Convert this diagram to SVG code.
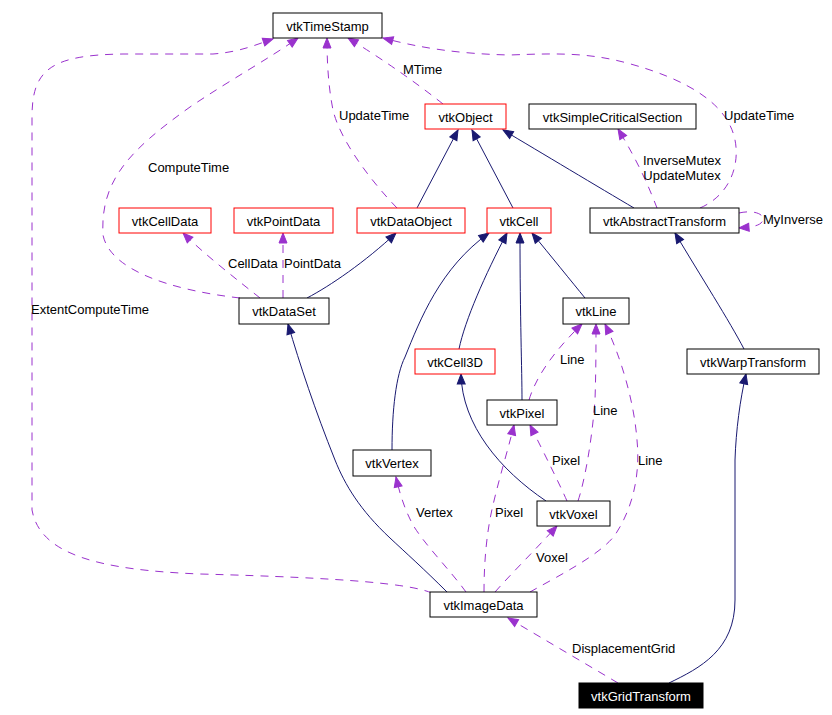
<svg xmlns="http://www.w3.org/2000/svg" width="832" height="715" viewBox="0 0 832 715">
<style>
  text { font-family: "Liberation Sans", Arial, sans-serif; font-size: 13px; fill: #000; }
  .n rect { fill: #fff; stroke: #000; stroke-width: 1; }
  .n.red rect { stroke: #ff0000; }
  .n.dark rect { fill: #000; stroke: #000; }
  .n.dark text { fill: #fff; }
  .n text { text-anchor: middle; }
  .inh { fill: none; stroke: #191970; stroke-width: 1; marker-end: url(#an); }
  .use { fill: none; stroke: #9a32cd; stroke-width: 1; stroke-dasharray: 8,7; marker-end: url(#ap); }
  .lbl text { text-anchor: start; }
</style>
<defs>
  <marker id="an" markerUnits="userSpaceOnUse" markerWidth="11" markerHeight="9" refX="10" refY="4" orient="auto" overflow="visible">
    <path d="M0,0 L10,4 L0,8 z" fill="#191970" stroke="#191970"/>
  </marker>
  <marker id="ap" markerUnits="userSpaceOnUse" markerWidth="11" markerHeight="9" refX="10" refY="4" orient="auto" overflow="visible">
    <path d="M0,0 L10,4 L0,8 z" fill="#9a32cd" stroke="#9a32cd"/>
  </marker>
</defs>
<rect width="832" height="715" fill="#fff"/>
<g id="connectors">
  <path class="inh" d="M417,208 L458,130"/>
  <path class="inh" d="M513,208 L472,130"/>
  <path class="inh" d="M634,208 C600,188 540,152 503,130"/>
  <path class="inh" d="M307,298 C330,286 365,262 396,233"/>
  <path class="inh" d="M392,450 C392,410 396,375 405,357 C420,320 440,268 489,233"/>
  <path class="inh" d="M459,349 C465,320 485,275 507,233"/>
  <path class="inh" d="M522,400 C522,370 520,320 520,233"/>
  <path class="inh" d="M585,298 C572,282 550,255 532,233"/>
  <path class="inh" d="M744,349 C730,322 700,275 675,233"/>
  <path class="inh" d="M546,501 C500,470 462,425 461,374"/>
  <path class="inh" d="M447,592 C425,570 405,552 390,538 C360,510 345,485 335,460 C315,410 300,365 288,324"/>
  <path class="inh" d="M669,683 C700,668 735,650 735,600 L735,460 C736,430 740,400 746,374"/>

  <path class="use" d="M240,298 C170,290 110,270 103,235 C100,180 130,150 190,107 C230,80 270,58 298,38"/>
  <path class="use" d="M432,593 C410,584 350,578 200,574 C100,570 40,555 32,510 L32,117 C32,70 50,55 123,54 L213,54 C240,52 255,45 273,39"/>
  <path class="use" d="M397,208 C370,180 340,140 333,110 C328,85 327,60 327,38"/>
  <path class="use" d="M443,104 Q400,70 348,38"/>
  <path class="use" d="M700,208 C730,195 740,165 735,140 C728,105 690,80 627,63 C590,53 560,53 510,55 C460,54 420,48 383,38"/>
  <path class="use" d="M657,208 C650,190 640,165 618,129"/>
  <path class="use" d="M739,213 C752,210 764,213 763,220 C761,226 752,227 739,228"/>
  <path class="use" d="M260,298 C240,282 205,255 183,233"/>
  <path class="use" d="M283,298 L283,233"/>
  <path class="use" d="M466,592 C450,570 425,545 413,525 C405,510 400,495 396,477"/>
  <path class="use" d="M484,592 C484,560 487,530 493,505 C500,475 508,450 514,425"/>
  <path class="use" d="M495,592 C510,575 535,550 557,526"/>
  <path class="use" d="M530,592 C560,575 600,555 615,535 C635,505 640,470 637,440 C634,400 620,355 605,324"/>
  <path class="use" d="M578,501 C585,480 592,440 595,400 C596,370 596,345 596,324"/>
  <path class="use" d="M529,400 C535,380 550,355 582,324"/>
  <path class="use" d="M567,501 C560,485 545,455 530,425"/>
  <path class="use" d="M618,683 L508,618"/>
</g>
<g id="labels" class="lbl">
  <text x="403" y="74">MTime</text>
  <text x="339" y="120">UpdateTime</text>
  <text x="724" y="120">UpdateTime</text>
  <text x="148" y="172">ComputeTime</text>
  <text x="682" y="165" style="text-anchor:middle">InverseMutex</text>
  <text x="682" y="180" style="text-anchor:middle">UpdateMutex</text>
  <text x="763" y="224">MyInverse</text>
  <text x="228" y="268">CellData</text>
  <text x="284" y="268">PointData</text>
  <text x="31" y="314">ExtentComputeTime</text>
  <text x="560" y="364">Line</text>
  <text x="593" y="415">Line</text>
  <text x="638" y="465">Line</text>
  <text x="552" y="465">Pixel</text>
  <text x="416" y="517">Vertex</text>
  <text x="495" y="517">Pixel</text>
  <text x="536" y="562">Voxel</text>
  <text x="572" y="653">DisplacementGrid</text>
</g>
<g id="vtkTimeStamp" class="n"><rect x="273" y="13" width="109" height="25"/><text x="327.5" y="31">vtkTimeStamp</text></g>
<g id="vtkObject" class="n red"><rect x="425" y="104" width="81" height="25"/><text x="465.5" y="122">vtkObject</text></g>
<g id="vtkSimpleCriticalSection" class="n"><rect x="529" y="104" width="167" height="25"/><text x="612.5" y="122">vtkSimpleCriticalSection</text></g>
<g id="vtkCellData" class="n red"><rect x="119" y="208" width="92" height="25"/><text x="165" y="226">vtkCellData</text></g>
<g id="vtkPointData" class="n red"><rect x="234" y="208" width="99" height="25"/><text x="283.5" y="226">vtkPointData</text></g>
<g id="vtkDataObject" class="n red"><rect x="357" y="208" width="108" height="25"/><text x="411" y="226">vtkDataObject</text></g>
<g id="vtkCell" class="n red"><rect x="487" y="208" width="64" height="25"/><text x="519" y="226">vtkCell</text></g>
<g id="vtkAbstractTransform" class="n"><rect x="590" y="208" width="149" height="25"/><text x="664.5" y="226">vtkAbstractTransform</text></g>
<g id="vtkDataSet" class="n"><rect x="239" y="298" width="90" height="26"/><text x="284" y="316">vtkDataSet</text></g>
<g id="vtkLine" class="n"><rect x="563" y="298" width="66" height="26"/><text x="596" y="316">vtkLine</text></g>
<g id="vtkCell3D" class="n red"><rect x="415" y="349" width="80" height="25"/><text x="455" y="367">vtkCell3D</text></g>
<g id="vtkWarpTransform" class="n"><rect x="687" y="349" width="132" height="25"/><text x="753" y="367">vtkWarpTransform</text></g>
<g id="vtkPixel" class="n"><rect x="487" y="400" width="70" height="25"/><text x="522" y="418">vtkPixel</text></g>
<g id="vtkVertex" class="n"><rect x="353" y="450" width="78" height="26"/><text x="392" y="468">vtkVertex</text></g>
<g id="vtkVoxel" class="n"><rect x="537" y="501" width="73" height="25"/><text x="573.5" y="519">vtkVoxel</text></g>
<g id="vtkImageData" class="n"><rect x="430" y="592" width="107" height="25"/><text x="483.5" y="610">vtkImageData</text></g>
<g id="vtkGridTransform" class="n dark"><rect x="579" y="683" width="124" height="25"/><text x="641" y="701">vtkGridTransform</text></g>
</svg>
